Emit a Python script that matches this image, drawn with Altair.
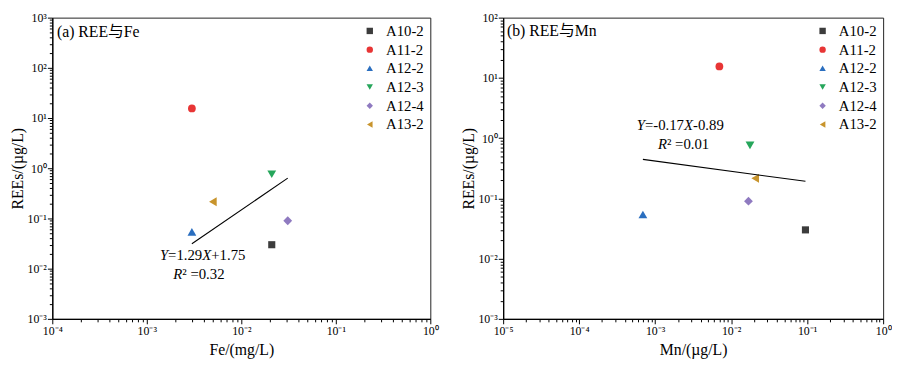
import altair as alt
import pandas as pd
import math

samples = ["A10-2", "A11-2", "A12-2", "A12-3", "A12-4", "A13-2"]
fe = [0.021, 0.003, 0.003, 0.021, 0.031, 0.005]
mn = [0.095, 0.0070, 0.00069, 0.0177, 0.0169, 0.0207]
ree = [0.030, 15.5, 0.054, 0.76, 0.090, 0.215]
colors = ["#3c3c3c", "#e83535", "#2a6ebf", "#26a65b", "#8f7ac0", "#c8942c"]
shapes = ["square", "circle", "triangle-up", "triangle-down", "diamond", "triangle-left"]
marker_sizes = [52, 62, 80, 80, 80, 80]

fe_fit = (1.29, 1.75)
mn_fit = (-0.17, -0.89)

SERIF = "Liberation Serif, Times New Roman, Noto Sans CJK SC"
EQ_SIZE = 15

sup_expr = ("'10' + (round(log(datum.value)/LN10) < 0 ? '\u207b' : '') + "
            "['\u2070','\u00b9','\u00b2','\u00b3','\u2074','\u2075','\u2076'][abs(round(log(datum.value)/LN10))]")

# Times / Liberation Serif advance widths (per 1000 em)
REG_W = {c: 500 for c in "0123456789"}
REG_W.update({".": 250, "=": 564, "+": 564, "-": 333, " ": 250, "\u00b2": 300})
ITA_W = {"Y": 556, "X": 611, "R": 611}


def piece_width(s, italic):
    table = ITA_W if italic else REG_W
    return sum(table.get(c, 500) for c in s) * EQ_SIZE / 1000.0


def decades(lo, hi):
    return [10.0 ** e for e in range(lo, hi + 1)]


def minors(lo, hi):
    return [m * 10.0 ** e for e in range(lo, hi) for m in range(2, 10)]


def panel(xvals, xlo, xhi, ylo, yhi, xtitle, label, label_xy, eqs, fit, width, height):
    df = pd.DataFrame({"sample": samples, "x": xvals, "ree": ree, "msize": marker_sizes})
    xs = alt.Scale(type="log", domain=[10.0 ** xlo, 10.0 ** xhi])
    ys = alt.Scale(type="log", domain=[10.0 ** ylo, 10.0 ** yhi])

    major_x = alt.Axis(values=decades(xlo, xhi), labelExpr=sup_expr, title=xtitle, orient="bottom",
                       tickSize=5, labelPadding=2, titlePadding=5, labelFlush=False, labelOverlap=False)
    major_y = alt.Axis(values=decades(ylo, yhi), labelExpr=sup_expr, title="REEs/(\u00b5g/L)", orient="left",
                       tickSize=5, labelPadding=1, titlePadding=2, labelFlush=False, labelOverlap=False)

    leg = alt.Legend(title=None, orient="top-right", offset=6)
    pts = alt.Chart(df).mark_point(filled=True, opacity=1).encode(
        x=alt.X("x:Q", scale=xs, axis=major_x),
        y=alt.Y("ree:Q", scale=ys, axis=major_y),
        color=alt.Color("sample:N", scale=alt.Scale(domain=samples, range=colors), legend=leg),
        shape=alt.Shape("sample:N", scale=alt.Scale(domain=samples, range=shapes), legend=leg),
        size=alt.Size("msize:Q", scale=None, legend=None),
    )
    minor = alt.Chart(df).mark_point(opacity=0).encode(
        x=alt.X("x:Q", scale=xs, axis=alt.Axis(values=minors(xlo, xhi), labels=False, domain=False,
                                                 tickSize=3, title=None, orient="bottom")),
        y=alt.Y("ree:Q", scale=ys, axis=alt.Axis(values=minors(ylo, yhi), labels=False, domain=False,
                                                   tickSize=3, title=None, orient="left")),
    )
    x0, x1 = min(xvals), max(xvals)
    line_df = pd.DataFrame({"x": [x0, x1],
                            "y": [10 ** (fit[0] * math.log10(v) + fit[1]) for v in (x0, x1)]})
    line = alt.Chart(line_df).mark_line(color="black", strokeWidth=1.1).encode(
        x=alt.X("x:Q", scale=xs, axis=None), y=alt.Y("y:Q", scale=ys, axis=None))

    def txt(s, xy, align, size, dx=0, style="normal"):
        d = pd.DataFrame({"x": [xy[0]], "y": [xy[1]], "t": [s]})
        return alt.Chart(d).mark_text(align=align, baseline="middle", font=SERIF, fontSize=size,
                                      fontStyle=style, dx=dx, color="black").encode(
            x=alt.X("x:Q", scale=xs, axis=None), y=alt.Y("y:Q", scale=ys, axis=None), text="t:N")

    layers = [pts, minor, line, txt(label, label_xy, "left", 16)]
    for pieces, xy in eqs:
        total = sum(piece_width(s, it) for s, it in pieces)
        cum = -total / 2.0
        for s, it in pieces:
            layers.append(txt(s, xy, "left", EQ_SIZE, dx=round(cum, 2), style="italic" if it else "normal"))
            cum += piece_width(s, it)
    return alt.layer(*layers).resolve_axis(x="independent", y="independent").properties(width=width, height=height)


left_eqs = [
    ([("Y", True), ("=1.29", False), ("X", True), ("+1.75", False)], (0.0039, 0.0186)),
    ([("R", True), ("\u00b2 =0.32", False)], (0.00356, 0.0078)),
]
right_eqs = [
    ([("Y", True), ("=-0.17", False), ("X", True), ("-0.89", False)], (0.00214, 1.67)),
    ([("R", True), ("\u00b2 =0.01", False)], (0.00237, 0.81)),
]

left = panel(fe, -4, 0, -3, 3, "Fe/(mg/L)", "(a) REE\u4e0eFe", (1.12e-4, 520), left_eqs, fe_fit, 384, 306)
right = panel(mn, -5, 0, -3, 2, "Mn/(\u00b5g/L)", "(b) REE\u4e0eMn", (1.12e-5, 60), right_eqs, mn_fit, 386, 306)

chart = alt.hconcat(left, right, spacing=20).resolve_scale(
    color="independent", shape="independent"
).resolve_legend(
    color="independent", shape="independent"
).properties(
    padding={"left": 0, "top": 0, "right": 0, "bottom": 0}
).configure_view(stroke="#222222", strokeWidth=1).configure_axis(
    domainColor="black", domainWidth=1.3, tickColor="black", tickWidth=1, grid=False,
    labelFont=SERIF, labelFontSize=12, labelColor="black",
    titleFont=SERIF, titleFontSize=16, titleFontWeight="normal", titleColor="black",
).configure_legend(
    labelFont=SERIF, labelFontSize=15, labelColor="black",
    symbolSize=42, symbolStrokeWidth=0, rowPadding=3, padding=0, labelOffset=9,
)

chart.save("out.html", embed_options={"renderer": "svg", "actions": False})
